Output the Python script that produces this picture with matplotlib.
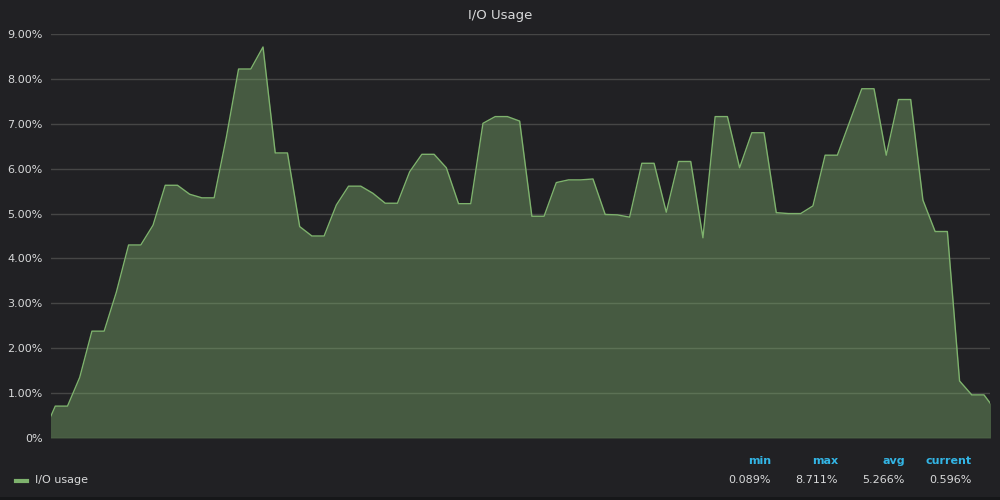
import numpy as np
import matplotlib.pyplot as plt
from matplotlib.ticker import FuncFormatter
from matplotlib.patches import Rectangle

# I/O usage samples (%), one per scrape interval
io_usage = [
    0.089, 0.71, 0.71, 1.35, 2.38, 2.38, 3.25, 4.30, 4.30, 4.74,
    5.63, 5.63, 5.43, 5.35, 5.35, 6.70, 8.22, 8.22, 8.711, 6.35,
    6.35, 4.71, 4.50, 4.50, 5.19, 5.61, 5.61, 5.45, 5.23, 5.23,
    5.93, 6.32, 6.32, 6.02, 5.22, 5.22, 7.01, 7.16, 7.16, 7.06,
    4.94, 4.94, 5.69, 5.75, 5.75, 5.77, 4.98, 4.97, 4.92, 6.12,
    6.12, 5.03, 6.16, 6.16, 4.46, 7.16, 7.16, 6.02, 6.80, 6.80,
    5.02, 5.00, 5.00, 5.17, 6.30, 6.30, 7.04, 7.78, 7.78, 6.30,
    7.54, 7.54, 5.30, 4.60, 4.60, 1.27, 0.96, 0.96, 0.596,
]
stat_names = ["min", "max", "avg", "current"]
stat_values = ["0.089%", "8.711%", "5.266%", "0.596%"]
yticks = [0, 1, 2, 3, 4, 5, 6, 7, 8, 9]

bg = "#212124"
text_col = "#d8d9da"
green = "#7eb26d"

x = np.arange(len(io_usage)) - 1

fig = plt.figure(figsize=(10, 5), dpi=100, facecolor=bg)
ax = fig.add_axes([0.051, 0.124, 0.939, 0.808], facecolor=bg)

ax.fill_between(x, io_usage, 0, color=green, alpha=0.4, linewidth=0, zorder=2)
ax.plot(x, io_usage, color=green, linewidth=1, zorder=3)

ax.set_xlim(-0.35, 76.49)
ax.set_ylim(0, 9)
ax.set_yticks(yticks)
ax.yaxis.set_major_formatter(FuncFormatter(lambda v, p: "0%" if v == 0 else f"{v:.2f}%"))
ax.tick_params(axis="y", colors=text_col, labelsize=8, length=0, pad=6)
ax.set_xticks([])
ax.grid(axis="y", color="#464646", linewidth=1, zorder=1)
for s in ax.spines.values():
    s.set_visible(False)

fig.text(0.5, 0.97, "I/O Usage", ha="center", va="center", color=text_col, fontsize=9.5)

# legend row
fig.add_artist(plt.Line2D([0.016, 0.027], [0.038, 0.038], color=green, linewidth=3))
fig.text(0.035, 0.04, "I/O usage", ha="left", va="center", color=text_col, fontsize=8)
right_edges = [0.771, 0.838, 0.905, 0.972]
for name, val, xr in zip(stat_names, stat_values, right_edges):
    fig.text(xr, 0.078, name, ha="right", va="center", color="#33b5e5",
             fontsize=8, fontweight="bold")
    fig.text(xr, 0.04, val, ha="right", va="center", color=text_col, fontsize=8)

# dark strip below the panel
fig.add_artist(Rectangle((0, 0), 1, 0.006, transform=fig.transFigure,
                         color="#161719", linewidth=0))

plt.savefig("out.png", dpi=100, facecolor=bg)
